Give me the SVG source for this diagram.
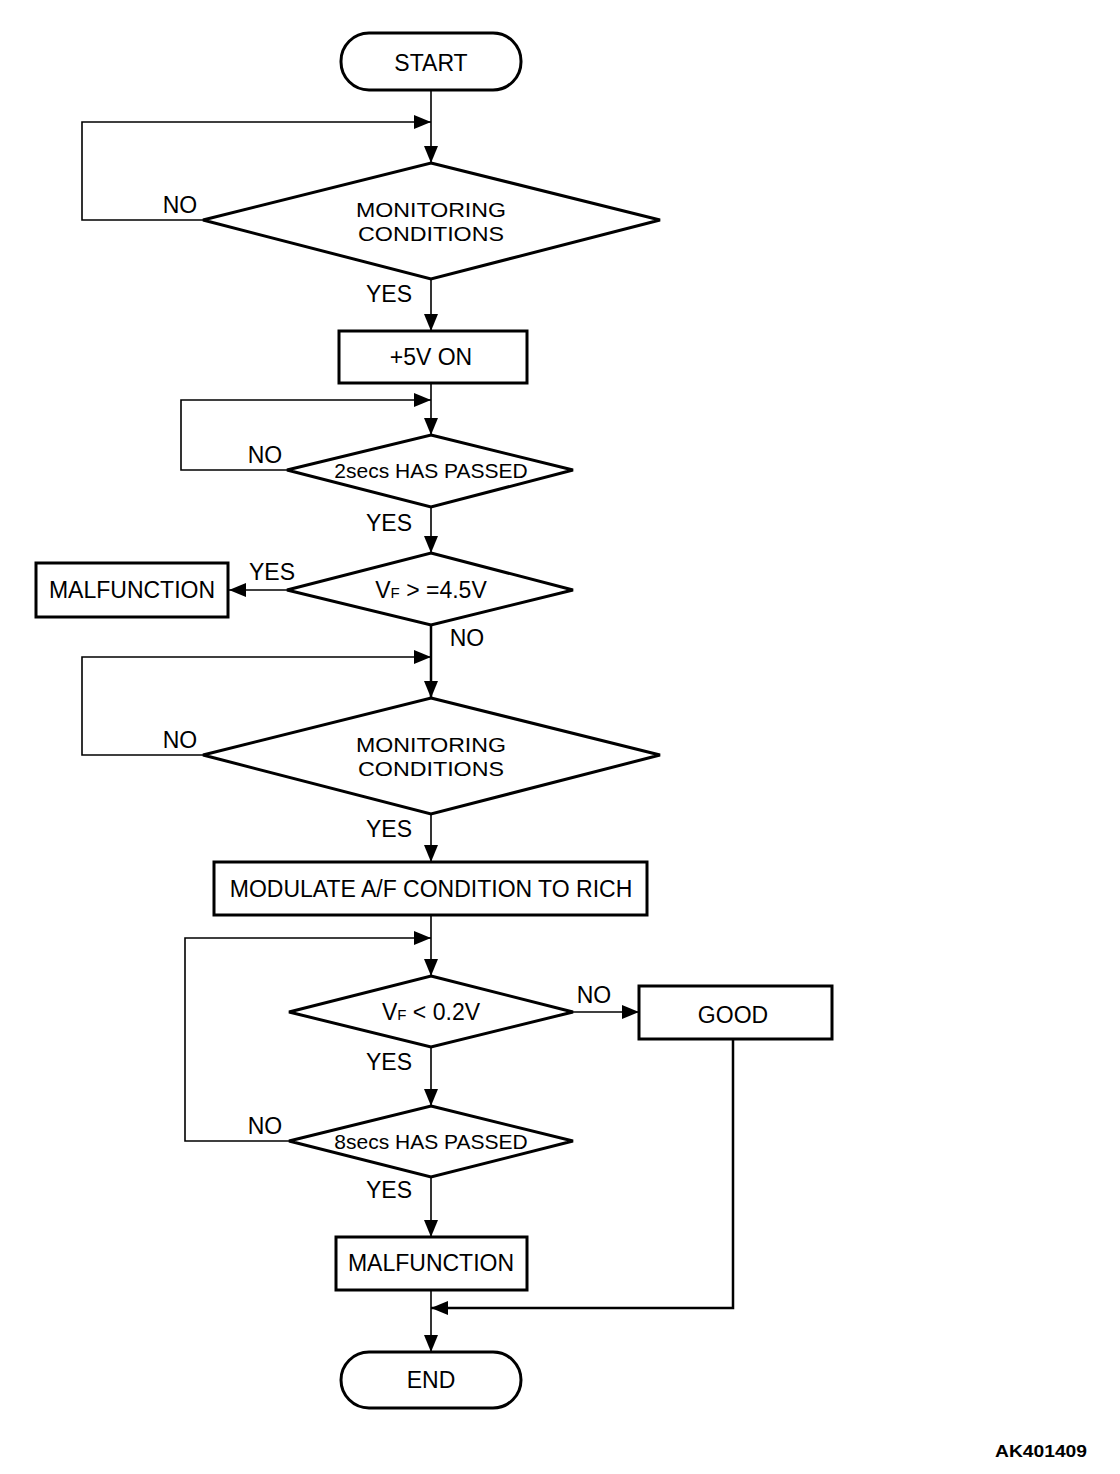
<svg xmlns="http://www.w3.org/2000/svg" width="1120" height="1474" viewBox="0 0 1120 1474">
<style>
.s{fill:#fff;stroke:#000;stroke-width:3}
.c{fill:none;stroke:#000;stroke-width:1.6}
.t{font-family:"Liberation Sans",Arial,sans-serif;font-size:23px;fill:#000;text-anchor:middle}
.d{font-family:"Liberation Sans",Arial,sans-serif;font-size:20px;fill:#000;text-anchor:middle}
.m{font-family:"Liberation Sans",Arial,sans-serif;font-size:21px;fill:#000;text-anchor:middle}
</style>
<defs>
<marker id="a" markerUnits="userSpaceOnUse" markerWidth="17" markerHeight="14" refX="17" refY="7" orient="auto">
<path d="M0,0 L17,7 L0,14 z" fill="#000"/>
</marker>
</defs>
<rect width="1120" height="1474" fill="#fff"/>
<g id="connectors">
<path class="c" d="M431,90 V163" marker-end="url(#a)"/>
<path class="c" d="M203,220 H82 V122 H431" marker-end="url(#a)"/>
<path class="c" d="M431,279 V331" marker-end="url(#a)"/>
<path class="c" d="M431,383 V435" marker-end="url(#a)"/>
<path class="c" d="M287,470 H181 V400 H431" marker-end="url(#a)"/>
<path class="c" d="M431,507 V553" marker-end="url(#a)"/>
<path class="c" d="M287,590 H229" marker-end="url(#a)"/>
<path class="c" style="stroke-width:2.5" d="M431,625 V698" marker-end="url(#a)"/>
<path class="c" d="M203,755 H82 V657 H431" marker-end="url(#a)"/>
<path class="c" d="M431,814 V862" marker-end="url(#a)"/>
<path class="c" d="M431,915 V976" marker-end="url(#a)"/>
<path class="c" d="M289,1141 H185 V938 H431" marker-end="url(#a)"/>
<path class="c" d="M573,1012 H639" marker-end="url(#a)"/>
<path class="c" d="M431,1047 V1106" marker-end="url(#a)"/>
<path class="c" d="M431,1177 V1237" marker-end="url(#a)"/>
<path class="c" style="stroke-width:2.5" d="M733,1039 V1308 H431" marker-end="url(#a)"/>
<path class="c" d="M431,1290 V1352" marker-end="url(#a)"/>
</g>
<g id="start"><rect class="s" x="341" y="33" width="180" height="57" rx="28"/><text class="t" x="431" y="71">START</text></g>
<g id="mon1"><polygon class="s" points="431,163 660,220 431,279 203,220"/><text class="d" x="431" y="217" textLength="150" lengthAdjust="spacingAndGlyphs">MONITORING</text><text class="d" x="431" y="241" textLength="146" lengthAdjust="spacingAndGlyphs">CONDITIONS</text></g>
<g id="plus5v"><rect class="s" x="339" y="331" width="188" height="52"/><text class="t" x="431" y="365">+5V ON</text></g>
<g id="sec2"><polygon class="s" points="431,435 573,470 431,507 287,470"/><text class="m" x="431" y="478">2secs HAS PASSED</text></g>
<g id="vf45"><polygon class="s" points="431,553 573,590 431,625 287,590"/><text class="t" x="431" y="598">V<tspan font-size="15">F</tspan> &gt; =4.5V</text></g>
<g id="malf1"><rect class="s" x="36" y="563" width="192" height="54"/><text class="t" x="132" y="598">MALFUNCTION</text></g>
<g id="mon2"><polygon class="s" points="431,698 660,755 431,814 203,755"/><text class="d" x="431" y="752" textLength="150" lengthAdjust="spacingAndGlyphs">MONITORING</text><text class="d" x="431" y="776" textLength="146" lengthAdjust="spacingAndGlyphs">CONDITIONS</text></g>
<g id="modulate"><rect class="s" x="214" y="862" width="433" height="53"/><text class="t" x="431" y="897">MODULATE A/F CONDITION TO RICH</text></g>
<g id="vf02"><polygon class="s" points="431,976 573,1012 431,1047 289,1012"/><text class="t" x="431" y="1020">V<tspan font-size="15">F</tspan> &lt; 0.2V</text></g>
<g id="good"><rect class="s" x="639" y="986" width="193" height="53"/><text class="t" x="733" y="1023">GOOD</text></g>
<g id="sec8"><polygon class="s" points="431,1106 573,1141 431,1177 289,1141"/><text class="m" x="431" y="1149">8secs HAS PASSED</text></g>
<g id="malf2"><rect class="s" x="336" y="1237" width="191" height="53"/><text class="t" x="431" y="1271">MALFUNCTION</text></g>
<g id="end"><rect class="s" x="341" y="1352" width="180" height="56" rx="28"/><text class="t" x="431" y="1388">END</text></g>
<g id="labels">
<text class="t" x="180" y="213">NO</text>
<text class="t" x="389" y="302">YES</text>
<text class="t" x="265" y="463">NO</text>
<text class="t" x="389" y="531">YES</text>
<text class="t" x="272" y="580">YES</text>
<text class="t" x="467" y="646">NO</text>
<text class="t" x="180" y="748">NO</text>
<text class="t" x="389" y="837">YES</text>
<text class="t" x="594" y="1003">NO</text>
<text class="t" x="389" y="1070">YES</text>
<text class="t" x="265" y="1134">NO</text>
<text class="t" x="389" y="1198">YES</text>
<text x="995" y="1457" font-family="Liberation Sans, Arial, sans-serif" font-size="16" font-weight="bold" textLength="92" lengthAdjust="spacingAndGlyphs">AK401409</text>
</g>
</svg>
